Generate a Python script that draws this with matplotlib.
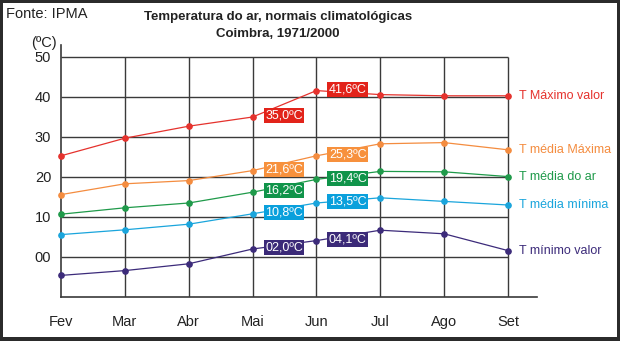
import matplotlib.pyplot as plt
from matplotlib.patches import Rectangle

plt.rcParams['font.family'] = ['Liberation Sans', 'DejaVu Sans']

# Normais climatológicas, Coimbra 1971/2000 (ºC)
meses = ["Fev", "Mar", "Abr", "Mai", "Jun", "Jul", "Ago", "Set"]
t_max_valor = [25.3, 29.7, 32.7, 35.0, 41.6, 40.6, 40.3, 40.3]
t_media_max = [15.6, 18.3, 19.1, 21.6, 25.3, 28.3, 28.6, 26.8]
t_media_ar = [10.7, 12.3, 13.5, 16.2, 19.4, 21.4, 21.3, 20.1]
t_media_min = [5.6, 6.8, 8.2, 10.8, 13.5, 14.8, 13.9, 13.0]
t_min_valor = [-4.6, -3.4, -1.7, 2.0, 4.1, 6.7, 5.8, 1.6]

nomes = ["T Máximo valor", "T média Máxima", "T média do ar",
         "T média mínima", "T mínimo valor"]
series = [t_max_valor, t_media_max, t_media_ar, t_media_min, t_min_valor]
cores = ["#e5322d", "#f48c3f", "#1f9a4a", "#1aa5dc", "#3c2b7a"]
cores_caixa = ["#e2231a", "#f7913d", "#10944a", "#0aa0dc", "#3b2a78"]

# meses com caixa de valor (Mai e Jun)
idx_caixa = [3, 4]

fig = plt.figure(figsize=(6.2, 3.41), dpi=100)
fig.patch.set_facecolor("#2b2b2b")
W, H = 620, 341
fig.patches.append(Rectangle((2.5 / W, 4.5 / H), (616.5 - 2.5) / W, (338.5 - 4.5) / H,
                             transform=fig.transFigure, facecolor="white",
                             edgecolor="none", zorder=-5))

ax = fig.add_axes([61 / W, 44 / H, (537 - 61) / W, (297 - 45) / H])
ax.set_facecolor("none")
x = list(range(len(meses)))
ax.set_xlim(0, 7 * 476 / 447)
ax.set_ylim(-10, 53)

grid_c = "#3a3a3a"
ax.hlines([0, 10, 20, 30, 40, 50], 0, 7, color=grid_c, lw=1.0, zorder=1)
ax.vlines(x[1:], -10, 50, color=grid_c, lw=1.0, zorder=1)

for s in ["top", "right"]:
    ax.spines[s].set_visible(False)
for s in ["left", "bottom"]:
    ax.spines[s].set_color(grid_c)
    ax.spines[s].set_linewidth(1.2)

ax.set_yticks([0, 10, 20, 30, 40, 50])
ax.set_yticklabels(["00", "10", "20", "30", "40", "50"])
ax.set_xticks(x)
ax.set_xticklabels(meses)
ax.tick_params(axis="both", length=0, labelsize=10.5, colors="#222222")
ax.tick_params(axis="x", pad=13)
ax.tick_params(axis="y", pad=7)

for nome, vals, cor, cc in zip(nomes, series, cores, cores_caixa):
    ax.plot(x, vals, color=cor, lw=0.9, marker="o", ms=3.8, zorder=3, clip_on=False)
    for i in idx_caixa:
        ax.annotate(f"{vals[i]:04.1f}ºC".replace(".", ","), (x[i], vals[i]),
                    xytext=(9, 1), textcoords="offset points", ha="left", va="center",
                    fontsize=9, color="white", zorder=4,
                    bbox=dict(boxstyle="square,pad=0.12", fc=cc, ec="none"))
    ax.annotate(nome, (x[-1], vals[-1]), xytext=(8, 0), textcoords="offset points",
                ha="left", va="center", fontsize=9, color=cor)

fig.text(6 / W, 1 - 14 / H, "Fonte: IPMA", fontsize=10.5, color="#222222", va="center")
fig.text(57 / W, 1 - 43 / H, "(ºC)", fontsize=10.5, color="#222222", va="center", ha="right")
fig.text(278 / W, 1 - 17 / H, "Temperatura do ar, normais climatológicas",
         fontsize=9.5, fontweight="bold", ha="center", va="center", color="#222222")
fig.text(278 / W, 1 - 34 / H, "Coimbra, 1971/2000",
         fontsize=9.5, fontweight="bold", ha="center", va="center", color="#222222")

fig.savefig("out.png", dpi=100, facecolor=fig.get_facecolor())
